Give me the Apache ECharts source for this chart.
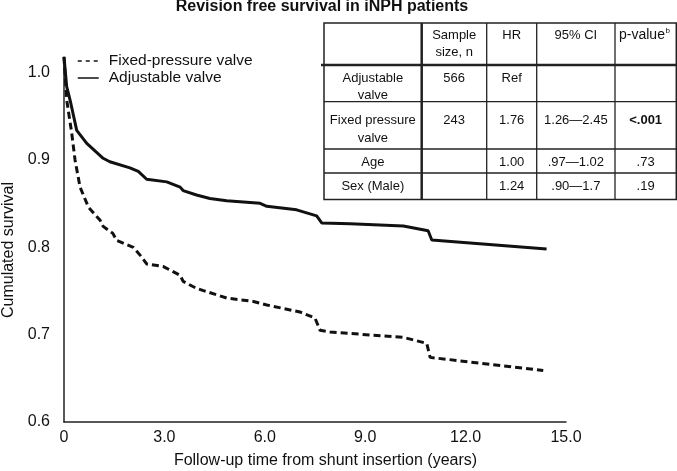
<!DOCTYPE html>
<html>
<head>
<meta charset="utf-8">
<script src="https://cdn.jsdelivr.net/npm/echarts@6/dist/echarts.min.js"></script>
<style>
  html, body { margin: 0; padding: 0; background: #fff; }
  #chart { width: 677px; height: 471px; }
</style>
</head>
<body>
<div id="chart"></div>
<script>
// survival curves (time in years, cumulated survival)
var adjustableTime = [0, 0.08, 0.18, 0.38, 0.68, 1.17, 1.37, 1.97, 2.22, 2.47, 3.07, 3.47, 3.56, 3.96, 4.36, 4.86, 5.86, 6.06, 6.95, 7.55, 7.7, 8.55, 10.14, 10.88, 10.99, 14.42];
var adjustableSurv = [1.018, 0.984, 0.969, 0.934, 0.919, 0.902, 0.898, 0.891, 0.887, 0.878, 0.875, 0.869, 0.865, 0.86, 0.856, 0.8535, 0.8505, 0.847, 0.843, 0.836, 0.828, 0.827, 0.8245, 0.819, 0.8085, 0.798];

var fixedTime = [0, 0.08, 0.23, 0.33, 0.48, 0.73, 1.08, 1.17, 1.46, 1.57, 2.07, 2.32, 2.47, 2.97, 3.47, 3.56, 3.96, 4.86, 5.66, 6.06, 7.05, 7.5, 7.65, 7.95, 10.14, 10.84, 10.94, 14.32];
var fixedSurv = [1.018, 0.969, 0.931, 0.9, 0.869, 0.846, 0.831, 0.824, 0.816, 0.808, 0.8, 0.789, 0.781, 0.778, 0.768, 0.761, 0.753, 0.742, 0.738, 0.734, 0.726, 0.719, 0.705, 0.703, 0.697, 0.69, 0.674, 0.659];

// Cox model table
var tableHead = ['', 'Sample\nsize, n', 'HR', '95% CI', 'p-value'];
var tableRows = [
    ['Adjustable\nvalve', '566', 'Ref', '', ''],
    ['Fixed pressure\nvalve', '243', '1.76', '1.26\u20142.45', '<.001'],
    ['Age', '', '1.00', '.97\u20141.02', '.73'],
    ['Sex (Male)', '', '1.24', '.90\u20141.7', '.19']
];

var FONT = '"Liberation Sans", Arial, Helvetica, sans-serif';
var INK = '#111';

var zip = function (xs, ys) {
    var res = [];
    for (var i = 0; i < xs.length; i++) {
        res.push([xs[i], ys[i]]);
    }
    return res;
};

// table layout
var colX = [324, 421.7, 486.7, 536.7, 615, 676.3];
var rowY = [23, 65, 101.7, 149, 173, 199.5];
var textY = [35.5, 78.5, 120.8, 162.5, 186.5];

var buildTable = function () {
    var els = [];
    els.push({
        type: 'rect', z: 100,
        shape: {x: colX[0], y: rowY[0], width: colX[5] - colX[0], height: rowY[5] - rowY[0]},
        style: {fill: '#fff', stroke: '#222', lineWidth: 1.5}
    });
    // inner horizontal lines
    for (var r = 1; r < rowY.length - 1; r++) {
        els.push({
            type: 'line', z: 101,
            shape: {x1: r === 1 ? colX[0] - 3 : colX[0], y1: rowY[r], x2: colX[5], y2: rowY[r]},
            style: {stroke: '#222', lineWidth: r === 1 ? 2.5 : 1.3}
        });
    }
    // inner vertical lines
    for (var c = 1; c < colX.length - 1; c++) {
        els.push({
            type: 'line', z: 101,
            shape: {x1: colX[c], y1: rowY[0], x2: colX[c], y2: rowY[5]},
            style: {stroke: '#222', lineWidth: c === 1 ? 2.5 : 1.3}
        });
    }
    var allRows = [tableHead].concat(tableRows);
    allRows.forEach(function (row, ri) {
        row.forEach(function (txt, ci) {
            if (!txt) return;
            var cx = (colX[ci] + colX[ci + 1]) / 2;
            var isHeadP = (ri === 0 && ci === 4);
            els.push({
                type: 'text', z: 102,
                style: {
                    text: txt,
                    x: isHeadP ? 619 : cx,
                    y: textY[ri] - 9,
                    align: isHeadP ? 'left' : 'center',
                    textAlign: isHeadP ? 'left' : 'center',
                    verticalAlign: 'top',
                    textVerticalAlign: 'top',
                    lineHeight: 17.5,
                    fill: INK,
                    font: (txt === '<.001' ? 'bold ' : '') + (isHeadP ? '14px ' : '13px ') + FONT
                }
            });
        });
    });
    // superscript b
    els.push({
        type: 'text', z: 102,
        style: {
            text: 'b', x: 665.5, y: 27,
            align: 'left', textAlign: 'left',
            verticalAlign: 'top', textVerticalAlign: 'top',
            fill: INK, font: '8px ' + FONT
        }
    });
    return els;
};

var chart = echarts.init(document.getElementById('chart'));

var option = {
    animation: false,
    backgroundColor: '#fff',
    title: {
        text: 'Revision free survival in iNPH patients',
        left: 322,
        top: -1.5,
        padding: 0,
        textAlign: 'center',
        z: 110,
        textStyle: {fontFamily: FONT, fontSize: 16, fontWeight: 'bold', color: INK}
    },
    legend: {
        orient: 'vertical',
        left: 77,
        top: 53,
        padding: 0,
        itemGap: 1,
        itemWidth: 21,
        itemHeight: 16,
        itemStyle: {color: 'transparent', borderWidth: 0, opacity: 0},
        textStyle: {fontFamily: FONT, fontSize: 15.5, color: INK, padding: [0, 0, 0, 5]},
        data: [
            {name: 'Fixed-pressure valve', lineStyle: {width: 1.5, type: [4, 4], color: INK}},
            {name: 'Adjustable valve', lineStyle: {width: 1.5, type: 'solid', color: INK}}
        ]
    },
    grid: {left: 64, right: 111, top: 57, bottom: 49, containLabel: false, outerBoundsMode: 'none'},
    xAxis: {
        type: 'value',
        min: 0,
        max: 15,
        interval: 3,
        name: 'Follow-up time from shunt insertion (years)',
        nameLocation: 'middle',
        nameGap: 31,
        nameTextStyle: {fontFamily: FONT, fontSize: 16, color: INK, padding: [0, 0, 0, 21]},
        axisLine: {lineStyle: {color: '#222', width: 1.5}},
        axisTick: {show: false},
        splitLine: {show: false},
        axisLabel: {
            fontFamily: FONT, fontSize: 16, color: INK, margin: 8,
            formatter: function (v) { return v === 0 ? '0' : v.toFixed(1); }
        }
    },
    yAxis: {
        type: 'value',
        min: 0.6,
        max: 1.018,
        interval: 0.1,
        name: 'Cumulated survival',
        nameLocation: 'middle',
        nameGap: 45,
        nameTextStyle: {fontFamily: FONT, fontSize: 16, color: INK, padding: [0, 21, 0, 0]},
        axisLine: {show: true, lineStyle: {color: '#222', width: 1.5}},
        axisTick: {show: false},
        splitLine: {show: false},
        axisLabel: {
            fontFamily: FONT, fontSize: 16, color: INK, margin: 14,
            showMaxLabel: false,
            formatter: function (v) { return v.toFixed(1); }
        }
    },
    series: [
        {
            name: 'Fixed-pressure valve',
            type: 'line',
            symbol: 'none',
            showSymbol: false,
            data: zip(fixedTime, fixedSurv),
            lineStyle: {color: INK, width: 3, type: [7, 4]}
        },
        {
            name: 'Adjustable valve',
            type: 'line',
            symbol: 'none',
            showSymbol: false,
            data: zip(adjustableTime, adjustableSurv),
            lineStyle: {color: INK, width: 3, type: 'solid'}
        }
    ],
    graphic: buildTable()
};

chart.setOption(option);
</script>
</body>
</html>
